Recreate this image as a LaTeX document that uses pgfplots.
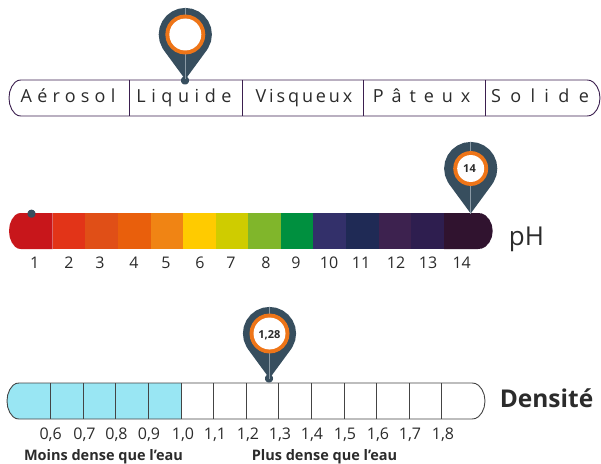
\documentclass[border=0pt]{standalone}
\usepackage{fontspec}
\setmainfont{Open Sans}
\usepackage{pgfplots}
\usepackage{pgfplotstable}
\pgfplotsset{compat=1.18}
\definecolor{pin}{HTML}{374E5E}
\definecolor{pinline}{HTML}{8A9AA5}
\definecolor{ring}{HTML}{EE7518}
\definecolor{ink}{HTML}{2B2B2B}
\definecolor{plum}{HTML}{3B1F4F}
\definecolor{grille}{HTML}{444444}
\definecolor{eau}{HTML}{99E6F3}
\definecolor{C1}{HTML}{C8161B}
\definecolor{C2}{HTML}{E23418}
\definecolor{C3}{HTML}{E04F17}
\definecolor{C4}{HTML}{E95F0C}
\definecolor{C5}{HTML}{F08414}
\definecolor{C6}{HTML}{FFCB00}
\definecolor{C7}{HTML}{CFCC00}
\definecolor{C8}{HTML}{80B62B}
\definecolor{C9}{HTML}{00903F}
\definecolor{C10}{HTML}{33306A}
\definecolor{C11}{HTML}{1F2A55}
\definecolor{C12}{HTML}{3D224F}
\definecolor{C13}{HTML}{2E1E4F}
\definecolor{C14}{HTML}{30132F}

% teardrop outline, offsets from the centre of the head
\pgfplotstableread{
dx dy
0 -26.6
6.9 -25.7
13.3 -23
18.8 -18.8
23 -13.3
25.7 -6.9
26.6 0
25.7 6.9
23 13.3
21.5 15.7
0 45
-21.5 15.7
-23 13.3
-25.7 6.9
-26.6 0
-25.7 -6.9
-23 -13.3
-18.8 -18.8
-13.3 -23
-6.9 -25.7
}\pintable
\pgfplotstableread{
dx dy
0 -26.6
0 45
}\pinaxis
% unit disc
\pgfplotstableread{
dx dy
1 0
0.966 0.259
0.866 0.5
0.707 0.707
0.5 0.866
0.259 0.966
0 1
-0.259 0.966
-0.5 0.866
-0.707 0.707
-0.866 0.5
-0.966 0.259
-1 0
-0.966 -0.259
-0.866 -0.5
-0.707 -0.707
-0.5 -0.866
-0.259 -0.966
0 -1
0.259 -0.966
0.5 -0.866
0.707 -0.707
0.866 -0.5
0.966 -0.259
}\disc

\newcommand{\seg}[5]{\addplot[fill=#5,draw=none,forget plot] coordinates {(#1,#3)(#2,#3)(#2,#4)(#1,#4)} --cycle;}
\newcommand{\vbar}[4]{\addplot[draw=#4,line width=0.9pt,forget plot] coordinates {(#1,#2)(#1,#3)};}
\newcommand{\dotm}[4]{\addplot[fill=#4,draw=none,forget plot] table[x expr=#3*\thisrow{dx}+#1,y expr=#3*\thisrow{dy}+#2] {\disc} --cycle;}
% x, y centre of head, ring radius, white radius
\newcommand{\pinhead}[4]{%
  \addplot[fill=pin,draw=none,forget plot] table[x expr=\thisrow{dx}+#1,y expr=\thisrow{dy}+#2] {\pintable} --cycle;
  \addplot[draw=pinline,line width=0.6pt,forget plot] table[x expr=\thisrow{dx}+#1,y expr=\thisrow{dy}+#2] {\pinaxis};
  \dotm{#1}{#2}{#3}{ring}
  \dotm{#1}{#2}{#4}{white}
}
% letter-spaced state name: x, spacing, text
\newcommand{\etat}[3]{\node[font={\fontsize{18}{20}\selectfont\addfontfeature{LetterSpace=#2}}] at (axis cs:#1,102.7) {#3};}
% scale number: x, baseline, text
\newcommand{\num}[3]{\node[font=\fontsize{16}{18}\selectfont] at (axis cs:#1,#2) {#3};}

\begin{document}
\begin{tikzpicture}
\begin{axis}[
    scale only axis,
    width=601pt,
    height=463pt,
    xmin=0, xmax=601,
    ymin=0, ymax=463,
    y dir=reverse,
    hide axis,
    clip=false,
]
\path (axis cs:0,0) rectangle (axis cs:601,463);
% --- physical state bar
\addplot[draw=plum,fill=white,line width=0.9pt,forget plot] coordinates {
    (21,80)(17.9,80.5)(15,82.3)(11.8,86.5)(9.7,91.9)(9,98)(9.7,104.1)(11.8,109.5)(15,113.7)(17.9,115.5)(21,116)
    (587,116)(590.4,115.5)(593.5,113.7)(597,109.5)(599.2,104.1)(600,98)(599.2,91.9)(597,86.5)(593.5,82.3)(590.4,80.5)(587,80)
} --cycle;
\vbar{129.7}{80}{116}{plum}
\vbar{242.3}{80}{116}{plum}
\vbar{363.3}{80}{116}{plum}
\vbar{485.3}{80}{116}{plum}
\dotm{185}{80.5}{4}{pin}
\pinhead{185.3}{34.5}{20}{16}

% --- pH bar
\addplot[fill=C1,draw=none,forget plot] coordinates {
    (21,213)(17.9,213.5)(15,215.3)(11.8,219.5)(9.7,224.9)(9,231)(9.7,237.1)(11.8,242.5)(15,246.7)(17.9,248.5)(21,249)
    (52.7,249)(52.7,213)
} --cycle;
\seg{52.7}{85}{213}{249}{C2}
\seg{85}{118}{213}{249}{C3}
\seg{118}{151}{213}{249}{C4}
\seg{151}{183}{213}{249}{C5}
\seg{183}{216}{213}{249}{C6}
\seg{216}{248}{213}{249}{C7}
\seg{248}{281}{213}{249}{C8}
\seg{281}{313}{213}{249}{C9}
\seg{313}{346}{213}{249}{C10}
\seg{346}{379.3}{213}{249}{C11}
\seg{379.3}{411}{213}{249}{C12}
\seg{411}{444}{213}{249}{C13}
\addplot[fill=C14,draw=none,forget plot] coordinates {
    (444,213)(478,213)(481.8,213.5)(485.4,215.3)(489.3,219.5)(491.8,224.9)(492.7,231)(491.8,237.1)(489.3,242.5)(485.4,246.7)(481.8,248.5)(478,249)(444,249)
} --cycle;
\dotm{31.5}{213.7}{4}{pin}
\pinhead{470.7}{168.5}{17.5}{13.5}

% --- density bar
\addplot[fill=eau,draw=none,forget plot] coordinates {
    (19,383)(15.9,383.5)(13,385.3)(9.8,389.5)(7.7,394.9)(7,401)(7.7,407.1)(9.8,412.5)(13,416.7)(15.9,418.5)(19,419)
    (181.3,419)(181.3,383)
} --cycle;
\addplot[draw=grille,line width=0.9pt,forget plot] coordinates {
    (19,383)(15.9,383.5)(13,385.3)(9.8,389.5)(7.7,394.9)(7,401)(7.7,407.1)(9.8,412.5)(13,416.7)(15.9,418.5)(19,419)
    (472,419)(475.4,418.5)(478.5,416.7)(482,412.5)(484.2,407.1)(485,401)(484.2,394.9)(482,389.5)(478.5,385.3)(475.4,383.5)(472,383)
} --cycle;
\vbar{50.7}{383}{419}{grille}
\vbar{83.3}{383}{419}{grille}
\vbar{115.7}{383}{419}{grille}
\vbar{148.7}{383}{419}{grille}
\vbar{181.3}{383}{419}{grille}
\vbar{213.7}{383}{419}{grille}
\vbar{246.3}{383}{419}{grille}
\vbar{278.7}{383}{419}{grille}
\vbar{311.7}{383}{419}{grille}
\vbar{344}{383}{419}{grille}
\vbar{376.7}{383}{419}{grille}
\vbar{409}{383}{419}{grille}
\vbar{441.7}{383}{419}{grille}
\dotm{269}{378.5}{4}{pin}
\pinhead{269.5}{333.5}{20}{16}

% --- texts
\begin{scope}[every node/.style={text=ink,inner sep=0pt,anchor=base}]
\etat{68}{29}{Aérosol}
\etat{184}{31}{Liquide}
\etat{304}{16}{Visqueux}
\etat{421.5}{44}{Pâteux}
\etat{540}{52}{Solide}
\node[font={\fontsize{11}{12}\selectfont\bfseries}] at (axis cs:469.5,172) {14};
\node[font={\fontsize{11}{12}\selectfont\bfseries}] at (axis cs:269.3,338) {1,28};
\node[font=\fontsize{26}{30}\selectfont] at (axis cs:526.5,245) {pH};
\node[font={\fontsize{24.5}{30}\selectfont\bfseries}] at (axis cs:546.5,407.7) {Densité};
\num{34.7}{268.3}{1}
\num{69}{268.3}{2}
\num{100}{268.3}{3}
\num{134}{268.3}{4}
\num{166}{268.3}{5}
\num{200}{268.3}{6}
\num{231}{268.3}{7}
\num{266}{268.3}{8}
\num{296}{268.3}{9}
\num{329}{268.3}{10}
\num{361}{268.3}{11}
\num{396}{268.3}{12}
\num{428}{268.3}{13}
\num{461.7}{268.3}{14}
\num{50.7}{439}{0,6}
\num{84.5}{439}{0,7}
\num{116.5}{439}{0,8}
\num{149}{439}{0,9}
\num{183}{439}{1,0}
\num{215}{439}{1,1}
\num{248}{439}{1,2}
\num{280}{439}{1,3}
\num{312}{439}{1,4}
\num{345}{439}{1,5}
\num{378}{439}{1,6}
\num{410}{439}{1,7}
\num{443}{439}{1,8}
\node[font={\fontsize{14.5}{16}\selectfont\bfseries}] at (axis cs:103.5,460) {Moins dense que l’eau};
\node[font={\fontsize{14.5}{16}\selectfont\bfseries}] at (axis cs:324.5,460) {Plus dense que l’eau};
\end{scope}
\end{axis}
\end{tikzpicture}
\end{document}
